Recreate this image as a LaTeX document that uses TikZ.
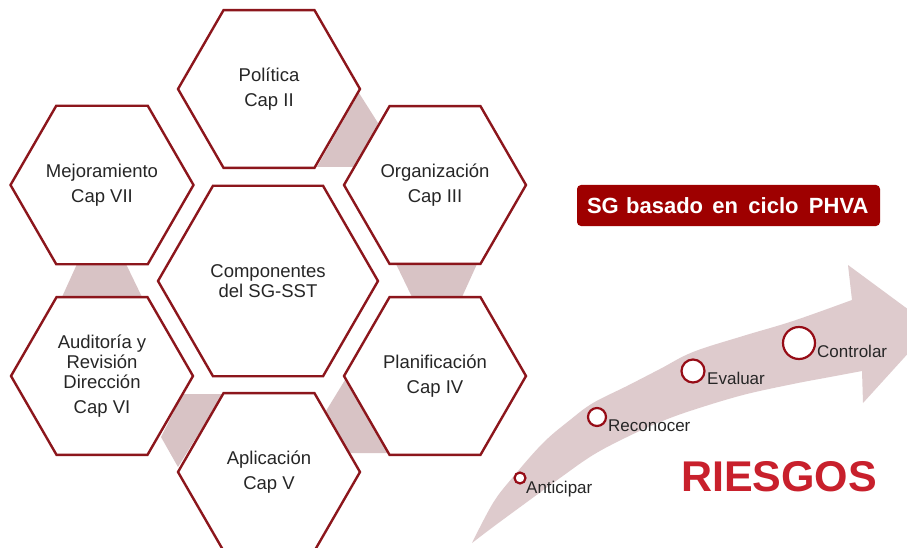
\documentclass[tikz,border=0pt]{standalone}
\usepackage{fontspec}
\setmainfont{Liberation Sans}
\usetikzlibrary{shapes.geometric}
\definecolor{hexline}{RGB}{140,22,28}
\definecolor{conn}{RGB}{216,195,197}
\definecolor{arrowc}{RGB}{222,203,205}
\definecolor{boxred}{RGB}{158,0,0}
\definecolor{txt}{RGB}{38,38,38}
\definecolor{riesgo}{RGB}{200,32,44}
\definecolor{dotred}{RGB}{150,12,22}
\begin{document}
\begin{tikzpicture}[x=1pt,y=-1pt,
  hexa/.style={regular polygon, regular polygon sides=6, minimum size=182pt,
    inner sep=0pt, outer sep=0pt, draw=hexline, line width=2.4pt, fill=white,
    text=txt, align=center, font=\fontsize{18.5}{24.5}\selectfont},
  bighexa/.style={hexa, minimum size=220pt, font=\fontsize{18.5}{19.5}\selectfont},
  connband/.style={fill=conn, draw=none},
  stepdot/.style={circle, draw=dotred, line width=2.2pt, fill=white, inner sep=0pt},
  steplabel/.style={anchor=base west, text=txt, font=\fontsize{17}{20}\selectfont, inner sep=0pt}
]
\useasboundingbox (0,0) rectangle (907,548);
\fill[white] (0,0) rectangle (907,548);
% connectors between hexagons
\fill[connband] (359,93) -- (378,123) -- (356,167) -- (317,167) -- cycle;
\fill[connband] (396,264) -- (477,264) -- (462,297) -- (412,297) -- cycle;
\fill[connband] (345,380) -- (326,411) -- (349,453) -- (388,453) -- cycle;
\fill[connband] (183,394) -- (223,394) -- (178,467) -- (161,437) -- cycle;
\fill[connband] (77,264) -- (126,264) -- (142,297) -- (62,297) -- cycle;
% hexagons
\node[hexa] (pol) at (269,89) {Política\\Cap II};
\node[hexa] (org) at (435,185) {Organización\\Cap III};
\node[hexa] (pla) at (435,376) {Planificación\\Cap IV};
\node[hexa] (apl) at (269,472) {Aplicación\\Cap V};
\node[hexa, font=\fontsize{18.5}{20}\selectfont] (aud) at (102,376) {Auditoría y\\Revisión\\Dirección\\[5pt]Cap VI};
\node[hexa] (mej) at (102,185) {Mejoramiento\\Cap VII};
\node[bighexa] (cen) at (268,281) {Componentes\\del SG-SST};
% title box
\node[fill=boxred, rounded corners=4pt, text width=283pt, align=left, inner xsep=10pt,
  inner ysep=0pt, minimum height=41pt, text=white,
  font=\fontsize{22}{26}\selectfont\bfseries] (phva) at (728.5,205.5)
  {SG basado\hspace{2pt} en\hspace{3pt} ciclo\hspace{3pt} PHVA};
% big curved arrow
\begin{scope}
\clip (0,0) rectangle (907,548);
\fill[arrowc] plot[smooth, tension=0.6] coordinates {(472,543) (493,503) (513,477) (543,443) (570,420) (593,403) (627,386) (660,369) (693,352) (743,336) (793,321) (852,300)}
  -- (848,265) -- (932,327) -- (863,403) -- (862,371)
  -- plot[smooth, tension=0.6] coordinates {(862,371) (830,377) (793,384) (743,395) (693,410) (660,422) (627,437) (593,455) (560,478) (527,502) (493,527) (472,543)}
  -- cycle;
\end{scope}
% steps
\node[stepdot, minimum size=11pt] (d1) at (520,478) {};
\node[stepdot, minimum size=18pt] (d2) at (597,417) {};
\node[stepdot, minimum size=23pt] (d3) at (693,371) {};
\node[stepdot, minimum size=32pt] (d4) at (799,343) {};
\node[steplabel] (l1) at (526,493) {Anticipar};
\node[steplabel] (l2) at (608,431) {Reconocer};
\node[steplabel] (l3) at (707,384) {Evaluar};
\node[steplabel] (l4) at (817,357) {Controlar};
% RIESGOS
\node[anchor=base, inner sep=0pt, text=riesgo, font=\fontsize{43}{48}\selectfont\bfseries] (ries) at (779,491) {RIESGOS};
\end{tikzpicture}
\end{document}
